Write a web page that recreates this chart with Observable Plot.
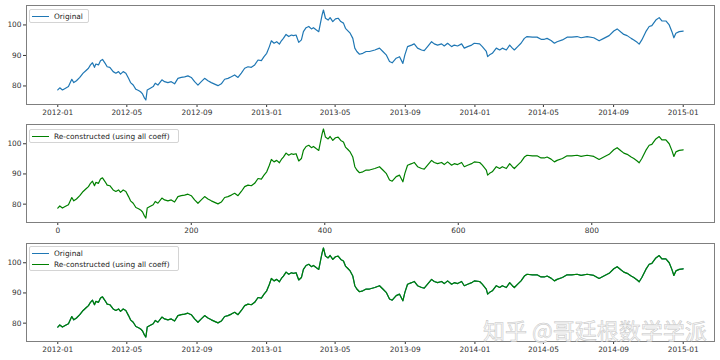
<!DOCTYPE html>
<html><head><meta charset="utf-8">
<script src="https://cdn.jsdelivr.net/npm/d3@7"></script>
<script src="https://cdn.jsdelivr.net/npm/@observablehq/plot@0.6"></script>
<style>
body{margin:0;background:#fff;font-family:"DejaVu Sans",sans-serif;}
#wrap{position:relative;width:720px;height:360px;overflow:hidden;background:#fff}
.panel{position:absolute;left:0;width:720px;height:120px}
.legend{position:absolute;box-sizing:border-box;background:rgba(255,255,255,0.85);border:1px solid #d4d4d4;border-radius:2px;font-size:7.4px;color:#222}
.row{position:absolute;left:0;height:11px;line-height:11px;white-space:nowrap}
.swatch{position:absolute;left:2px;top:5px;width:17px;height:1.3px}
.lab{position:absolute;left:24px;top:0}
#wm{position:absolute;left:483px;top:318px;font-family:"Noto Sans CJK SC";font-size:22px;line-height:22px;color:rgba(248,248,248,0.8);-webkit-text-stroke:0.5px #c4c4c4;white-space:nowrap}
</style>
</head><body>
<div id="wrap"></div>
<script>
// sample positions (index in the series of 938 points) and values
const sampleIndex = [0,3,7,11,16,21,24,28,33,38,42,46,49,52,55,57,61,64,67,71,74,78,83,87,91,94,98,102,106,109,113,117,121,124,127,130,132,134,138,143,
146,150,156,160,165,170,175,180,185,190,195,200,205,210,215,220,225,230,235,240,245,250,255,260,265,270,275,280,285,290,295,300,305,309,
313,317,320,324,328,332,335,338,342,346,350,353,357,361,365,368,372,376,380,383,387,391,393,396,398,401,405,408,412,416,420,424,428,431,435,438,442,445,448,452,457,
462,467,475,482,487,492,497,501,507,512,517,520,524,530,534,539,545,549,554,560,564,569,575,579,584,590,594,599,605,609,614,620,
624,632,636,642,644,647,651,657,662,666,672,677,681,684,689,694,699,703,711,718,724,729,733,739,744,748,756,763,770,778,
784,793,803,811,818,826,833,838,844,848,853,859,863,868,871,875,881,886,890,896,901,905,911,916,920,923,926,931,937];
const original = [78.7,79.4,78.7,79.2,79.8,82.2,81.1,81.7,82.8,84.2,85.0,85.8,86.9,87.6,86.1,87.2,86.9,88.3,88.7,87.4,86.3,86.1,84.7,84.2,84.7,83.9,84.7,84.2,82.5,81.1,80.3,78.9,78.5,78.1,77.4,76.0,75.4,78.7,79.2,79.8,
80.9,80.3,82.0,81.4,81.1,81.4,80.7,82.5,82.8,83.0,83.3,82.8,81.4,80.3,81.4,82.5,81.7,81.1,80.6,80.1,80.7,82.2,82.5,83.0,83.6,82.8,84.2,85.8,86.3,86.1,86.9,88.5,88.3,89.6,
90.7,92.9,94.8,94.0,94.5,93.7,94.8,95.6,96.9,96.2,96.7,96.5,96.7,94.3,95.1,97.8,99.1,99.5,98.7,99.1,98.4,97.8,100.0,103.3,104.9,102.2,101.6,102.4,101.1,102.0,102.2,101.1,100.6,98.9,98.0,97.3,95.6,92.4,91.3,90.4,90.7,
91.3,91.3,91.8,92.4,91.3,90.2,88.0,87.6,89.1,89.6,87.4,90.2,92.9,93.4,93.8,92.4,91.8,91.6,92.9,94.5,93.8,93.4,93.8,93.1,94.0,92.9,93.4,93.1,93.8,92.4,92.9,93.4,
94.0,93.8,92.9,91.3,89.6,90.2,90.7,92.4,91.8,92.4,91.8,93.4,92.4,91.8,92.9,94.0,95.6,96.2,96.0,96.0,95.3,95.3,95.6,94.9,94.0,94.5,95.1,96.0,96.0,96.2,
95.8,96.2,95.8,94.8,95.6,96.5,98.0,98.7,97.6,96.9,96.5,95.6,95.1,94.3,93.7,95.1,97.8,99.5,99.8,101.6,102.4,101.3,101.3,100.0,97.8,95.8,97.3,97.8,98.0];
// reconstruction using all coefficients is identical to the original
const reconstructed = original.slice();
const yTicks = [80, 90, 100];
const indexTicks = [0, 200, 400, 600, 800];
const startDate = new Date(Date.UTC(2012, 0, 1));
const endDate = new Date(Date.UTC(2015, 0, 1));
const lastIndex = 937;
const legendTop = ["Original"];
const legendMid = ["Re-constructed (using all coeff)"];
const legendBot = ["Original", "Re-constructed (using all coeff)"];
const watermark = "知乎 @哥廷根数学学派";

const BLUE = "#1f77b4", GREEN = "#008000";
const dateOf = i => new Date(+startDate + i / lastIndex * (endDate - startDate));
const rows = sampleIndex.map((i, k) => ({i, date: dateOf(i), orig: original[k], rec: reconstructed[k]}));
const vmin = d3.min(original), vmax = d3.max(original), pad = 0.05 * (vmax - vmin);
const yDomain = [vmin - pad, vmax + pad];
const span = endDate - startDate;
const dateDomain = [new Date(+startDate - 0.05 * span), new Date(+endDate + 0.05 * span)];
const dateTicks = d3.utcMonth.every(4).range(startDate, new Date(+endDate + 1));
const idxDomain = [-0.05 * lastIndex, 1.05 * lastIndex];

const wrap = document.getElementById("wrap");
function panel(top, mt, mb, xOpts, marks) {
  const p = Plot.plot({
    width: 720, height: 120, marginTop: mt, marginBottom: mb, marginLeft: 26, marginRight: 6,
    style: {fontFamily: "DejaVu Sans", fontSize: "7.4px", color: "#333", background: "white", overflow: "visible"},
    x: {...xOpts, tickSize: 3, tickPadding: 2, label: null},
    y: {domain: yDomain, ticks: yTicks, tickSize: 3, tickPadding: 2, label: null},
    marks: [...marks, Plot.frame({stroke: "#7f7f7f", strokeWidth: 1})]
  });
  const d = document.createElement("div");
  d.className = "panel"; d.style.top = top + "px";
  d.appendChild(p); wrap.appendChild(d);
}
function legend(left, top, width, items) {
  const L = document.createElement("div");
  L.className = "legend";
  L.style.left = left + "px"; L.style.top = top + "px";
  L.style.width = width + "px"; L.style.height = (3 + 11 * items.length) + "px";
  items.forEach((it, k) => {
    const r = document.createElement("div");
    r.className = "row"; r.style.top = (1 + 11 * k) + "px";
    r.innerHTML = `<div class="swatch" style="background:${it.color}"></div><div class="lab">${it.label}</div>`;
    L.appendChild(r);
  });
  wrap.appendChild(L);
}
const dateX = {type: "utc", domain: dateDomain, ticks: dateTicks, tickFormat: d3.utcFormat("%Y-%m")};
panel(0, 5, 16, dateX, [
  Plot.line(rows, {x: "date", y: "orig", stroke: BLUE, strokeWidth: 1.2})
]);
panel(120, 4, 18, {domain: idxDomain, ticks: indexTicks, tickFormat: d3.format("d")}, [
  Plot.line(rows, {x: "i", y: "rec", stroke: GREEN, strokeWidth: 1.2})
]);
panel(240, 3, 19, dateX, [
  Plot.line(rows, {x: "date", y: "orig", stroke: BLUE, strokeWidth: 1.2}),
  Plot.line(rows, {x: "date", y: "rec", stroke: GREEN, strokeWidth: 1.2})
]);
legend(29, 9, 60, [{label: legendTop[0], color: BLUE}]);
legend(29, 129, 150, [{label: legendMid[0], color: GREEN}]);
legend(29, 246, 150, [{label: legendBot[0], color: BLUE}, {label: legendBot[1], color: GREEN}]);
const wm = document.createElement("div");
wm.id = "wm"; wm.textContent = watermark; wrap.appendChild(wm);
</script>
</body></html>
